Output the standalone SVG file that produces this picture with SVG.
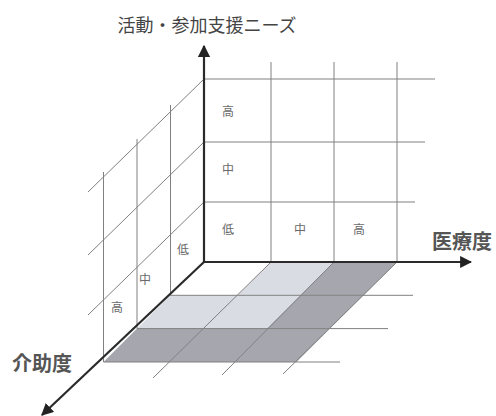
<svg xmlns="http://www.w3.org/2000/svg" width="496" height="416" viewBox="0 0 496 416">
<style>
.grid{stroke:#808080;stroke-width:1;fill:none}
.axis{stroke:#2a2a2a;stroke-width:2.2;fill:none}
.lt{fill:#d9dce3}
.dk{fill:#a6a6ae}
.sm{font-family:"Noto Sans CJK JP","Noto Sans CJK SC",sans-serif;font-size:12px;fill:#6a6a6a;text-anchor:middle}
.ax{font-family:"Noto Sans CJK JP","Noto Sans CJK SC",sans-serif;font-weight:bold;fill:#555}
</style>
<defs>
<marker id="ah" viewBox="0 0 10 10" refX="9" refY="5" markerWidth="5.5" markerHeight="5.5" orient="auto" markerUnits="strokeWidth">
<path d="M0,0 L10,5 L0,10 Z" fill="#222"/>
</marker>
</defs>
<g id="floor">
<polygon class="lt" points="271,262 334,262 300.5,295.3 237.5,295.3"/>
<polygon class="dk" points="334,262 397,262 363.5,295.3 300.5,295.3"/>
<polygon class="lt" points="170.5,295.3 300.5,295.3 267,328.6 137,328.6"/>
<polygon class="dk" points="300.5,295.3 363.5,295.3 330,328.6 267,328.6"/>
<polygon class="dk" points="137,328.6 330,328.6 296.5,362 103.5,362"/>
</g>
<g id="connectors">
<line class="grid" x1="204" y1="79" x2="435" y2="79"/>
<line class="grid" x1="204" y1="142" x2="425" y2="142"/>
<line class="grid" x1="204" y1="202" x2="415" y2="202"/>
<line class="grid" x1="271" y1="62" x2="271" y2="262"/>
<line class="grid" x1="334" y1="62" x2="334" y2="262"/>
<line class="grid" x1="397" y1="62" x2="397" y2="262"/>
<line class="grid" x1="204" y1="79" x2="88" y2="192"/>
<line class="grid" x1="204" y1="142" x2="88" y2="255"/>
<line class="grid" x1="204" y1="202" x2="88" y2="315"/>
<line class="grid" x1="170.5" y1="105" x2="170.5" y2="295.3"/>
<line class="grid" x1="137" y1="139" x2="137" y2="328.6"/>
<line class="grid" x1="103.5" y1="172" x2="103.5" y2="362"/>
<line class="grid" x1="170.5" y1="295.3" x2="413" y2="295.3"/>
<line class="grid" x1="137" y1="328.6" x2="388" y2="328.6"/>
<line class="grid" x1="103.5" y1="362" x2="340" y2="362"/>
<line class="grid" x1="271" y1="262" x2="153" y2="378"/>
<line class="grid" x1="334" y1="262" x2="222" y2="375"/>
<line class="grid" x1="397" y1="262" x2="283" y2="374"/>
<line class="axis" x1="204" y1="262" x2="204" y2="46" marker-end="url(#ah)"/>
<line class="axis" x1="204" y1="262" x2="471" y2="262" marker-end="url(#ah)"/>
<line class="axis" x1="204" y1="262" x2="42" y2="415" marker-end="url(#ah)"/>
</g>
<g id="labels-back">
<text class="sm" x="228" y="116">高</text>
<text class="sm" x="228" y="174">中</text>
<text class="sm" x="228" y="234">低</text>
<text class="sm" x="300" y="234">中</text>
<text class="sm" x="359" y="234">高</text>
</g>
<g id="labels-left">
<text class="sm" x="183" y="254">低</text>
<text class="sm" x="145" y="284">中</text>
<text class="sm" x="117" y="312">高</text>
</g>
<g id="axis-y"><text x="207" y="32" font-size="18" text-anchor="middle" style="font-family:'Noto Sans CJK JP','Noto Sans CJK SC',sans-serif;fill:#444">活動・参加支援ニーズ</text></g>
<g id="axis-x"><text class="ax" x="432" y="249" font-size="20">医療度</text></g>
<g id="axis-z"><text class="ax" x="12" y="371" font-size="20">介助度</text></g>
</svg>
